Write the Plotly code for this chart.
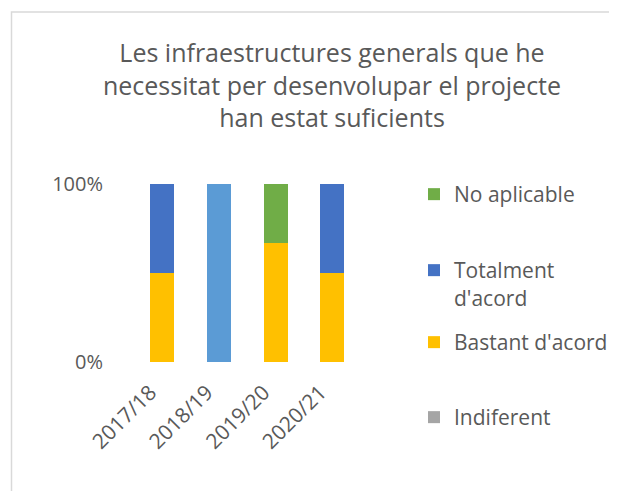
import plotly.graph_objects as go

categories = ["2017/18", "2018/19", "2019/20", "2020/21"]
indiferent = [0, 0, 0, 0]
bastant = [50, 0, 66.7, 50]
totalment = [50, 100, 0, 50]
no_aplicable = [0, 0, 33.3, 0]

title_text = "Les infraestructures generals que he<br>necessitat per desenvolupar el projecte<br>han estat suficients"
font_family = "Open Sans"
txt = "#595959"

W, H = 617, 491
OFF = 8  # browser body margin
L, R = 118 - OFF, 372 - OFF
T, B = 184 - OFF, 362 - OFF

fig = go.Figure()
fig.add_trace(go.Bar(x=categories, y=indiferent, name="Indiferent",
                     marker_color="#A5A5A5", legend="legend4"))
fig.add_trace(go.Bar(x=categories, y=bastant, name="Bastant d'acord",
                     marker_color="#FFC000", legend="legend3"))
fig.add_trace(go.Bar(x=categories, y=totalment, name="Totalment<br>d'acord",
                     marker_color=["#4472C4", "#5B9BD5", "#4472C4", "#4472C4"],
                     legend="legend2"))
fig.add_trace(go.Bar(x=categories, y=no_aplicable, name="No aplicable",
                     marker_color="#70AD47", legend="legend"))
fig.update_traces(width=0.42, marker_line_width=0)

def lg(ycenter):
    ytop = ycenter - OFF - 20
    return dict(xref="container", yref="container", x=(414 - OFF) / W, y=1 - ytop / H,
                xanchor="left", yanchor="top", font=dict(size=21, color=txt, family=font_family),
                bgcolor="rgba(0,0,0,0)", itemwidth=30, valign="top")

px2x = lambda px: (px - OFF - L) / (R - L)
px2y = lambda py: (B - (py - OFF)) / (B - T)

fig.update_layout(
    width=W, height=H,
    barmode="stack",
    showlegend=True,
    paper_bgcolor="white", plot_bgcolor="white",
    margin=dict(l=L, r=W - R, t=T, b=H - B),
    font=dict(family=font_family, color=txt, size=16),
    title=dict(text=title_text, xref="container", yref="container",
               x=(332 - OFF) / W, xanchor="center", y=1 - (62 - OFF) / H, yanchor="middle",
               font=dict(size=25, color=txt, family=font_family)),
    xaxis=dict(range=[-0.78, 3.7], tickangle=-45, showgrid=False, zeroline=False,
               showline=False, ticks="", ticklabelstandoff=13, ticklabelshift=-12,
               tickfont=dict(size=21, color=txt)),
    yaxis=dict(range=[0, 100], tickvals=[0, 100], ticktext=["0%", "100%"],
               showgrid=True, gridcolor="#D9D9D9", gridwidth=1.5, zeroline=False,
               showline=False, ticks="", ticklabelstandoff=14,
               tickfont=dict(size=20, color=txt)),
    legend=lg(194),
    legend2=lg(270),
    legend3=lg(342),
    legend4=lg(417),
    shapes=[dict(type="rect", xref="paper", yref="paper",
                 x0=px2x(11.5), x1=px2x(720), y0=px2y(12), y1=px2y(600),
                 line=dict(color="#D9D9D9", width=1.5), fillcolor="rgba(0,0,0,0)", layer="below")],
)

fig.write_html("out.html")
